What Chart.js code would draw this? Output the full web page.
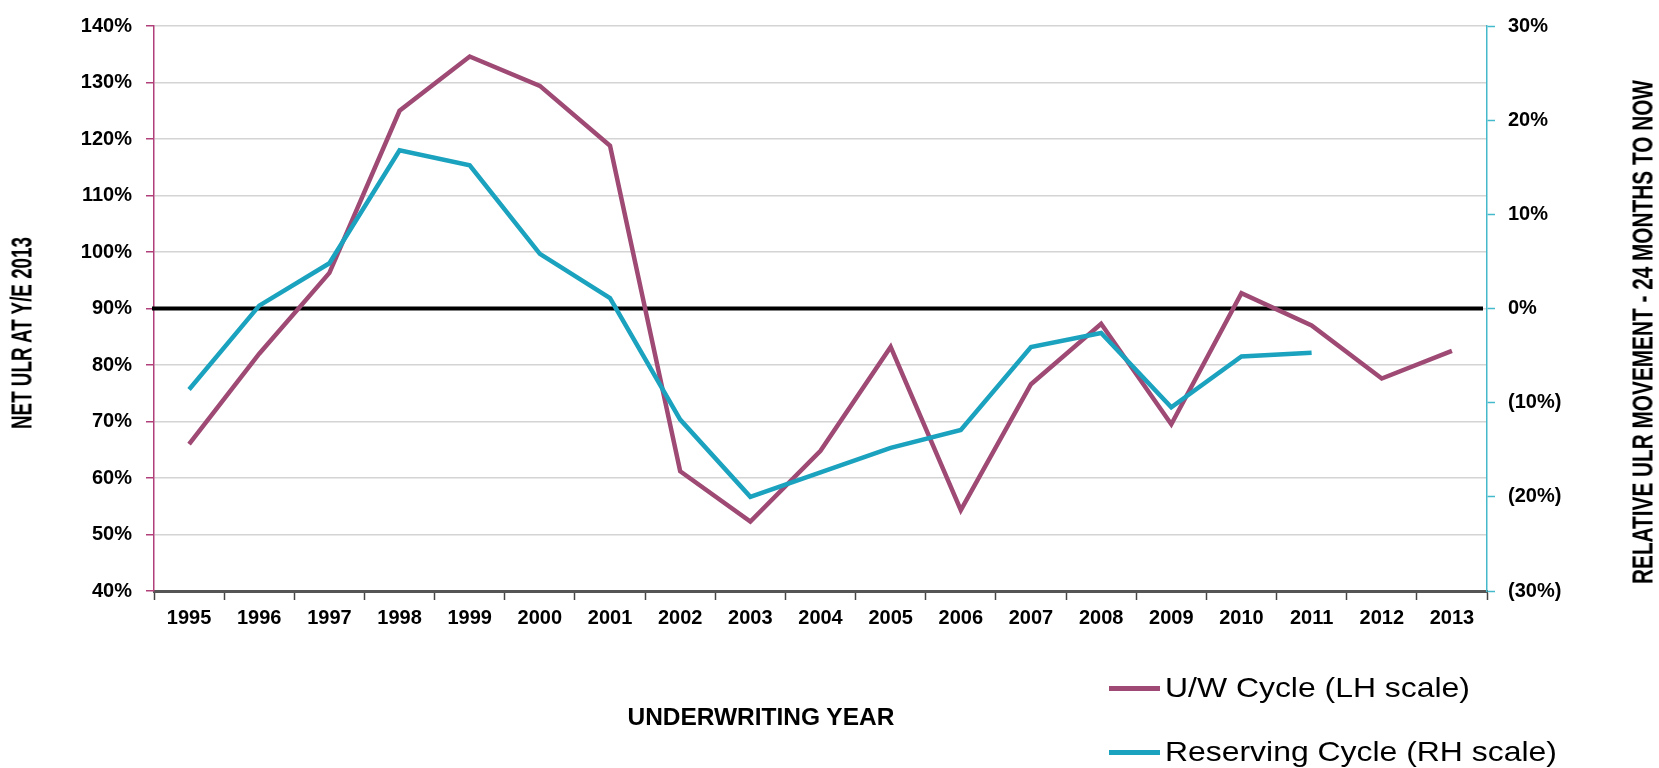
<!DOCTYPE html>
<html>
<head>
<meta charset="utf-8">
<script src="https://cdn.jsdelivr.net/npm/chart.js@4.4.1/dist/chart.umd.min.js"></script>
<style>
  html, body { margin: 0; padding: 0; background: #fff; }
  #wrap { position: relative; width: 1659px; height: 768px; overflow: hidden; }
  canvas { position: absolute; left: 0; top: 0; }
  .txt { position: absolute; left: 0; top: 0; white-space: nowrap; font-family: 'Liberation Sans', Arial, sans-serif; color: #000; transform-origin: 0 0; }
  .lg-line { position: absolute; height: 5px; }
</style>
</head>
<body>
<div id="wrap">
  <canvas id="c" width="1659" height="768"></canvas>
</div>
<script>
// ---- data ----
const years = ['1995','1996','1997','1998','1999','2000','2001','2002','2003','2004','2005','2006','2007','2008','2009','2010','2011','2012','2013'];
const uwCycle = [66.0, 82.0, 96.3, 125.0, 134.6, 129.4, 118.8, 61.2, 52.3, 64.8, 83.2, 54.3, 76.6, 87.3, 69.5, 92.7, 87.0, 77.6, 82.5];
const reservingCycle = [-8.6, 0.3, 4.8, 16.8, 15.2, 5.8, 1.1, -11.8, -20.0, -17.4, -14.8, -12.9, -4.1, -2.6, -10.5, -5.1, -4.7, null, null];
const leftTicks = { min: 40, max: 140, step: 10 };
const rightTicks = { min: -30, max: 30, step: 10 };
const ZERO_LINE = 0;
const labels = {
  uw: 'U/W Cycle (LH scale)',
  res: 'Reserving Cycle (RH scale)',
  yLeft: 'NET ULR AT Y/E 2013',
  yRight: 'RELATIVE ULR MOVEMENT - 24 MONTHS TO NOW',
  x: 'UNDERWRITING YEAR'
};

// ---- styles ----
const MAGENTA = '#9E4A74';
const TEAL = '#1AA2BE';
const LEFT_AXIS = '#B0407A';
const RIGHT_AXIS = '#45B9CC';
const GRID = '#D4D4D4';
const tickFont = { family: "'Liberation Sans', Arial, sans-serif", size: 20, weight: 'bold' };

const refLine = {
  id: 'refLine',
  beforeDatasetsDraw(chart) {
    const { ctx, chartArea: { left, right }, scales: { y1 } } = chart;
    const y = y1.getPixelForValue(ZERO_LINE);
    ctx.save();
    ctx.strokeStyle = '#000';
    ctx.lineWidth = 4;
    ctx.beginPath();
    ctx.moveTo(left - 2, y);
    ctx.lineTo(right - 4, y);
    ctx.stroke();
    ctx.restore();
  }
};

const chart = new Chart(document.getElementById('c'), {
  type: 'line',
  data: {
    labels: years,
    datasets: [
      { label: labels.uw, data: uwCycle, yAxisID: 'y', borderColor: MAGENTA, backgroundColor: MAGENTA, borderWidth: 4.5, pointRadius: 0, tension: 0, order: 2 },
      { label: labels.res, data: reservingCycle, yAxisID: 'y1', borderColor: TEAL, backgroundColor: TEAL, borderWidth: 4.5, pointRadius: 0, tension: 0, spanGaps: false, order: 1 }
    ]
  },
  options: {
    responsive: false,
    animation: false,
    devicePixelRatio: 1,
    layout: { padding: { top: 22, left: 0, right: 0, bottom: 0 } },
    plugins: { legend: { display: false }, tooltip: { enabled: false } },
    scales: {
      x: {
        type: 'category',
        offset: true,
        grid: { display: true, drawOnChartArea: false, drawTicks: true, tickLength: 9, tickColor: '#444', tickWidth: 1.5, offset: true },
        border: { display: true, color: '#555', width: 3 },
        ticks: { font: tickFont, color: '#000', padding: 6, maxRotation: 0, autoSkip: false },
        afterFit(scale) { scale.height = 177; }
      },
      y: {
        position: 'left',
        min: leftTicks.min, max: leftTicks.max,
        ticks: { stepSize: leftTicks.step, font: tickFont, color: '#000', padding: 14, callback: v => v + '%' },
        grid: { color: GRID, lineWidth: 1.5, tickColor: LEFT_AXIS, tickLength: 8, tickWidth: 1.5 },
        border: { display: true, color: LEFT_AXIS, width: 1.5 },
        afterFit(scale) { scale.width = 154; }
      },
      y1: {
        position: 'right',
        min: rightTicks.min, max: rightTicks.max,
        ticks: { stepSize: rightTicks.step, font: tickFont, color: '#000', padding: 13, callback: v => v < 0 ? '(' + (-v) + '%)' : v + '%' },
        grid: { drawOnChartArea: false, tickColor: RIGHT_AXIS, tickLength: 8, tickWidth: 1.5 },
        border: { display: true, color: RIGHT_AXIS, width: 1.5 },
        afterFit(scale) { scale.width = 172; }
      }
    }
  },
  plugins: [refLine]
});

// ---- titles and legend as HTML text ----
const wrap = document.getElementById('wrap');
function addText(text, opts) {
  const el = document.createElement('div');
  el.className = 'txt';
  el.textContent = text;
  el.style.fontSize = opts.size + 'px';
  el.style.fontWeight = opts.bold ? 'bold' : 'normal';
  el.style.lineHeight = '1';
  wrap.appendChild(el);
  const w = el.offsetWidth, h = el.offsetHeight;
  const sx = opts.len ? opts.len / w : 1;
  if (opts.rotate) {
    // center at (cx, cy), reading bottom to top
    el.style.transform = `translate(${opts.cx}px, ${opts.cy}px) rotate(-90deg) scale(${sx}, 1) translate(${-w / 2}px, ${-h / 2}px)`;
  } else if (opts.cx !== undefined) {
    el.style.transform = `translate(${opts.cx}px, ${opts.cy}px) scale(${sx}, 1) translate(${-w / 2}px, ${-h / 2}px)`;
  } else {
    el.style.transform = `translate(${opts.x}px, ${opts.cy}px) scale(${opts.sx || sx}, 1) translate(0px, ${-h / 2}px)`;
  }
  return { el, w, h, sx };
}

addText(labels.yLeft, { size: 29, bold: true, cx: 22, cy: 333, len: 192, rotate: true });
addText(labels.yRight, { size: 29, bold: true, cx: 1643, cy: 332, len: 504, rotate: true });
addText(labels.x, { size: 24, bold: true, cx: 761, cy: 717, len: 267 });

// legend built from chart datasets
const lgRows = [688, 752];
const measure = document.createElement('span');
measure.className = 'txt';
measure.style.fontSize = '28px';
measure.textContent = labels.res;
wrap.appendChild(measure);
const lgScale = 392 / measure.offsetWidth;
wrap.removeChild(measure);
chart.data.datasets.forEach((ds, i) => {
  const line = document.createElement('div');
  line.className = 'lg-line';
  line.style.left = '1109px';
  line.style.width = '51px';
  line.style.top = (lgRows[i] - 2.5) + 'px';
  line.style.background = ds.borderColor;
  wrap.appendChild(line);
  addText(ds.label, { size: 28, bold: false, x: 1165, cy: lgRows[i], sx: lgScale });
});
</script>
</body>
</html>
